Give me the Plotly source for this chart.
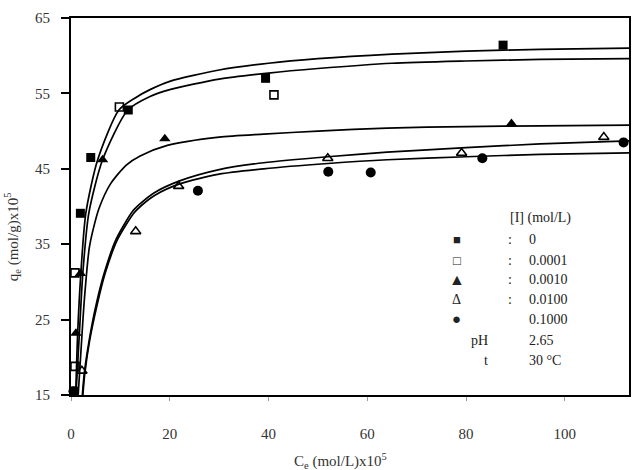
import plotly.graph_objects as go

# ---------------- data ----------------
sq_f_x = [0.5, 1.9, 4.0, 11.6, 39.4, 87.5]
sq_f_y = [15.5, 39.1, 46.5, 52.8, 57.0, 61.4]

sq_o_x = [0.8, 0.8, 9.8, 41.1]
sq_o_y = [18.8, 31.2, 53.2, 54.8]

tri_f_x = [1.0, 1.9, 6.4, 19.0, 89.2]
tri_f_y = [23.2, 31.1, 46.2, 49.0, 51.0]

tri_o_x = [2.2, 13.1, 21.8, 52.0, 79.1, 107.9]
tri_o_y = [18.2, 36.7, 42.7, 46.4, 47.1, 49.2]

cir_x = [0.5, 25.7, 52.1, 60.7, 83.3, 111.9]
cir_y = [15.5, 42.1, 44.6, 44.5, 46.4, 48.5]

# fitted curves
c1_x = [0.95, 1.35, 2.0, 3.0, 5.4, 9.7, 13, 16, 20, 30, 40, 50, 65, 80, 95, 113]
c1_y = [15.0, 23.2, 31.2, 39.1, 46.2, 52.8, 54.4, 55.5, 56.6, 58.1, 59.0, 59.6, 60.2, 60.6, 60.85, 61.0]

c2_x = [1.0, 1.7, 2.4, 3.6, 6.4, 11.5, 16, 20, 30, 40, 50, 65, 80, 95, 113]
c2_y = [15.0, 23.2, 31.2, 39.1, 46.2, 52.8, 54.6, 55.5, 56.9, 57.7, 58.3, 59.0, 59.3, 59.5, 59.6]

c3_x = [1.45, 1.9, 2.7, 3.7, 4.5, 5.7, 8, 11.2, 14, 19.5, 30, 39, 50, 64, 80, 95, 113]
c3_y = [15.0, 19.6, 27.6, 34.5, 37.0, 39.8, 43.0, 45.5, 46.7, 48.1, 49.2, 49.6, 50.0, 50.4, 50.6, 50.7, 50.8]

c4_x = [2.3, 2.7, 3.7, 5.0, 6.7, 9.1, 12.4, 13.9, 16.8, 22, 30, 39, 52, 64, 80, 95, 113]
c4_y = [15.0, 17.9, 22.3, 26.7, 31.1, 35.6, 39.3, 40.3, 41.8, 43.4, 44.9, 45.8, 46.6, 47.2, 47.8, 48.3, 48.7]

c5_x = [2.4, 2.8, 3.8, 5.2, 6.9, 9.4, 12.7, 14.2, 17, 22, 30, 39, 52, 64, 80, 95, 113]
c5_y = [15.0, 17.9, 22.3, 26.7, 31.1, 35.6, 39.1, 40.1, 41.5, 43.0, 44.3, 45.0, 45.7, 46.2, 46.6, 46.9, 47.1]

x_ticks = [0, 20, 40, 60, 80, 100]
y_ticks = [15, 25, 35, 45, 55, 65]

legend_symbols = ["■", "□", "▲", "Δ", "●"]
legend_values = ["0", "0.0001", "0.0010", "0.0100", "0.1000"]

# ---------------- figure ----------------
FONT = "Liberation Serif"
W, H = 634, 470
ML, MR, MT, MB = 71, 3, 18, 75
PW, PH = W - ML - MR, H - MT - MB

fig = go.Figure()
for cx, cy in [(c1_x, c1_y), (c2_x, c2_y), (c3_x, c3_y), (c4_x, c4_y), (c5_x, c5_y)]:
    fig.add_trace(go.Scatter(x=cx, y=cy, mode="lines",
                             line=dict(color="black", width=1.7, shape="spline", smoothing=0.7),
                             hoverinfo="skip"))

mk = [
    (sq_f_x, sq_f_y, dict(symbol="square", size=9, color="black")),
    (sq_o_x, sq_o_y, dict(symbol="square-open", size=8, color="black", line=dict(width=1.6))),
    (tri_f_x, tri_f_y, dict(symbol="triangle-up", size=10, color="black")),
    (tri_o_x, tri_o_y, dict(symbol="triangle-up-open", size=9, color="black", line=dict(width=1.6))),
    (cir_x, cir_y, dict(symbol="circle", size=10, color="black")),
]
for mx, my, m in mk:
    fig.add_trace(go.Scatter(x=mx, y=my, mode="markers", marker=m, cliponaxis=False))


def px2paper(px, py):
    return (px - ML) / PW, (H - MB - py) / PH


ann = []


def add_text(txt, px, py, xanchor="left", size=14):
    x, y = px2paper(px, py)
    ann.append(dict(text=txt, x=x, y=y, xref="paper", yref="paper", showarrow=False,
                    xanchor=xanchor, yanchor="middle",
                    font=dict(family=FONT, size=size, color="#222")))


add_text("[I] (mol/L)", 510, 218)
rows_y = [239, 260, 280, 299, 319]
sym_sizes = [13, 13, 16, 14, 15]
for s, v, yy, ss in zip(legend_symbols, legend_values, rows_y, sym_sizes):
    add_text(s, 458, yy, xanchor="center", size=ss)
    add_text(v, 529, yy)
for yy in rows_y[:4]:
    add_text(":", 512, yy, xanchor="center")
add_text("pH", 491, 340, xanchor="right")
add_text("2.65", 529, 340)
add_text("t", 491, 360, xanchor="right")
add_text("30 °C", 529, 360)

# axis titles
x, y = px2paper(12, 237)
ann.append(dict(text="q<sub>e</sub> (mol/g)x10<sup>5</sup>", x=x, y=y, xref="paper", yref="paper",
                showarrow=False, textangle=-90, xanchor="center", yanchor="middle",
                font=dict(family=FONT, size=15, color="#333")))
x, y = px2paper(341, 461)
ann.append(dict(text="C<sub>e</sub> (mol/L)x10<sup>5</sup>", x=x, y=y, xref="paper", yref="paper",
                showarrow=False, xanchor="center", yanchor="middle",
                font=dict(family=FONT, size=15, color="#333")))

fig.update_layout(
    width=W, height=H, autosize=False,
    margin=dict(l=ML, r=MR, t=MT, b=MB, pad=0),
    paper_bgcolor="white", plot_bgcolor="white",
    showlegend=False,
    annotations=ann,
    font=dict(family=FONT, size=15, color="#333"),
)
fig.update_xaxes(range=[0, 113], tickvals=x_ticks, showgrid=False, zeroline=False,
                 showline=True, linecolor="black", linewidth=2, mirror=True,
                 ticks="outside", ticklen=4, tickcolor="#999", tickwidth=1,
                 ticklabelstandoff=20, tickfont=dict(family=FONT, size=15, color="#333"))
fig.update_yaxes(range=[15, 65], tickvals=y_ticks, showgrid=False, zeroline=False,
                 showline=True, linecolor="black", linewidth=2, mirror=True,
                 ticks="outside", ticklen=8, tickcolor="black", tickwidth=2,
                 ticklabelstandoff=8, tickfont=dict(family=FONT, size=15, color="#333"))

fig.write_html("out.html")
